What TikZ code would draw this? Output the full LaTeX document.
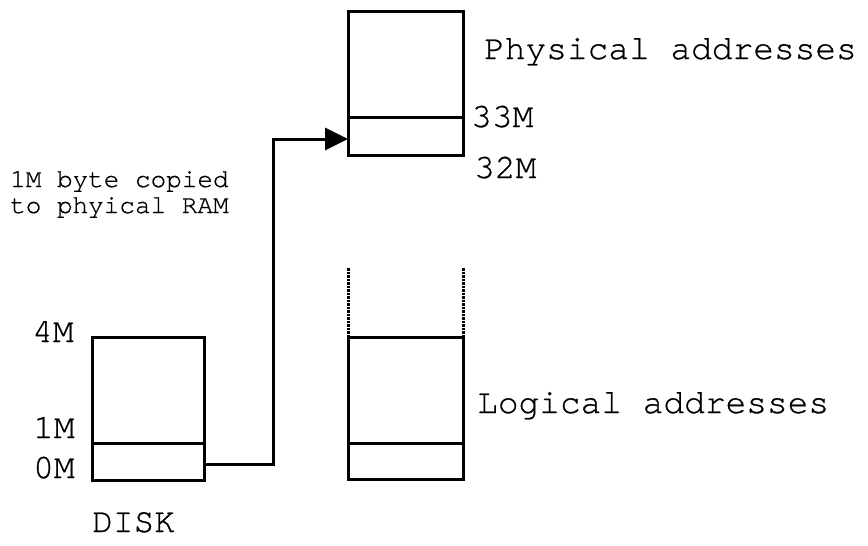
\documentclass[tikz,border=0pt]{standalone}
\usepackage{fontspec}
\setmonofont[FakeBold=0.7]{TeX Gyre Cursor}
\usetikzlibrary{arrows.meta,calc}
\begin{document}
\begin{tikzpicture}[x=1pt,y=-1pt,
  seg/.style={draw,line width=3pt,inner sep=0pt,outer sep=0pt,minimum width=115pt},
  biglbl/.style={font=\ttfamily\fontsize{34.5}{40}\selectfont,inner sep=0pt,anchor=base west},
  smalllbl/.style={font=\ttfamily\fontsize{26}{26}\selectfont,inner sep=0pt,anchor=base west,align=left},
  conn/.style={line width=3pt,-{Triangle[length=23pt,width=22pt]}},
  dotln/.style={line width=3pt,dash pattern=on 2.5pt off 1pt}]
\useasboundingbox (0,0) rectangle (868,546);
% Physical memory
\node[seg,minimum height=106pt] (physTop) at (405.5,64) {};
\node[seg,minimum height=38pt] (physBot) at (405.5,136) {};
% Disk
\node[seg,minimum width=112pt,minimum height=106pt] (diskTop) at (148,390) {};
\node[seg,minimum width=112pt,minimum height=37pt] (diskBot) at (148,461.5) {};
% Logical
\node[seg,minimum height=106pt] (logTop) at (405.5,390) {};
\node[seg,minimum height=36pt] (logBot) at (405.5,461) {};
\coordinate (dotL) at (348,268);
\coordinate (dotR) at (463,268);
\draw[dotln] (dotL) -- (logTop.north west);
\draw[dotln] (dotR) -- (logTop.north east);
% connector
\coordinate (corner) at (273,139);
\draw[conn] ($(diskBot.east)+(0,2.5)$) -| (corner) -- ($(physBot.west)+(0,3)$);
% labels
\node[biglbl] (lphys) at (484,59) {Physical addresses};
\node[biglbl] (l33) at (471,127) {33M};
\node[biglbl] (l32) at (474,178) {32M};
\node[biglbl] (llog) at (477,413) {Logical addresses};
\node[biglbl] (l4) at (32,342) {4M};
\node[biglbl] (l1) at (33,438) {1M};
\node[biglbl] (l0) at (33,478) {0M};
\node[biglbl] (ldisk) at (92,532) {DISK};
\node[smalllbl] (lcopy1) at (10,187) {1M byte copied};
\node[smalllbl] (lcopy2) at (10,213) {to phyical RAM};
\end{tikzpicture}
\end{document}
